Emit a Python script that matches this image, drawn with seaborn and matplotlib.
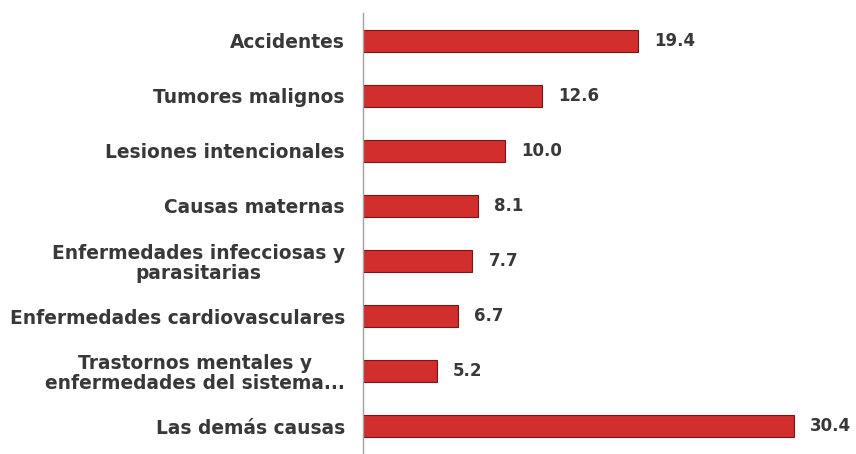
import matplotlib
matplotlib.use("Agg")
import matplotlib.pyplot as plt
import seaborn as sns
import pandas as pd

categories = [
    "Accidentes",
    "Tumores malignos",
    "Lesiones intencionales",
    "Causas maternas",
    "Enfermedades infecciosas y\nparasitarias",
    "Enfermedades cardiovasculares",
    "Trastornos mentales y\nenfermedades del sistema...",
    "Las demás causas",
]
values = [19.4, 12.6, 10.0, 8.1, 7.7, 6.7, 5.2, 30.4]

sns.set_theme(style="white")
plt.rcParams["font.family"] = ["DejaVu Sans"]

df = pd.DataFrame({"cat": categories, "val": values})

fig = plt.figure(figsize=(8.56, 4.54), dpi=100)
ax = fig.add_axes([363 / 856, 0.0, 1 - 363 / 856, 1 - 13 / 454])

sns.barplot(data=df, x="val", y="cat", orient="h", color="#d22e2e",
            width=0.4, edgecolor="#7a1515", linewidth=0.8, saturation=1, ax=ax)

ax.set_xlim(0, 34.8)
ax.set_ylim(7.42, -0.5)
ax.set_xlabel("")
ax.set_ylabel("")
ax.set_xticks([])

for s in ["top", "right", "bottom"]:
    ax.spines[s].set_visible(False)
ax.spines["left"].set_color("#a0a0a0")
ax.spines["left"].set_linewidth(1.0)

ax.tick_params(axis="y", which="major", length=0, pad=13, labelsize=13.4,
               labelcolor="#383838")
ax.set_yticks(range(len(categories)))
ax.set_yticklabels(categories, fontweight="bold", linespacing=1.05)
for lbl in ax.get_yticklabels():
    lbl.set_multialignment("center")
ax.set_yticks([i + 0.5 for i in range(-1, len(categories))], minor=True)
ax.tick_params(axis="y", which="minor", length=4, color="#a0a0a0", width=1,
               direction="out")

for i, v in enumerate(values):
    ax.text(v + 1.15, i, f"{v:.1f}", va="center", ha="left",
            fontsize=12, fontweight="bold", color="#383838")

fig.savefig("out.png", dpi=100)
